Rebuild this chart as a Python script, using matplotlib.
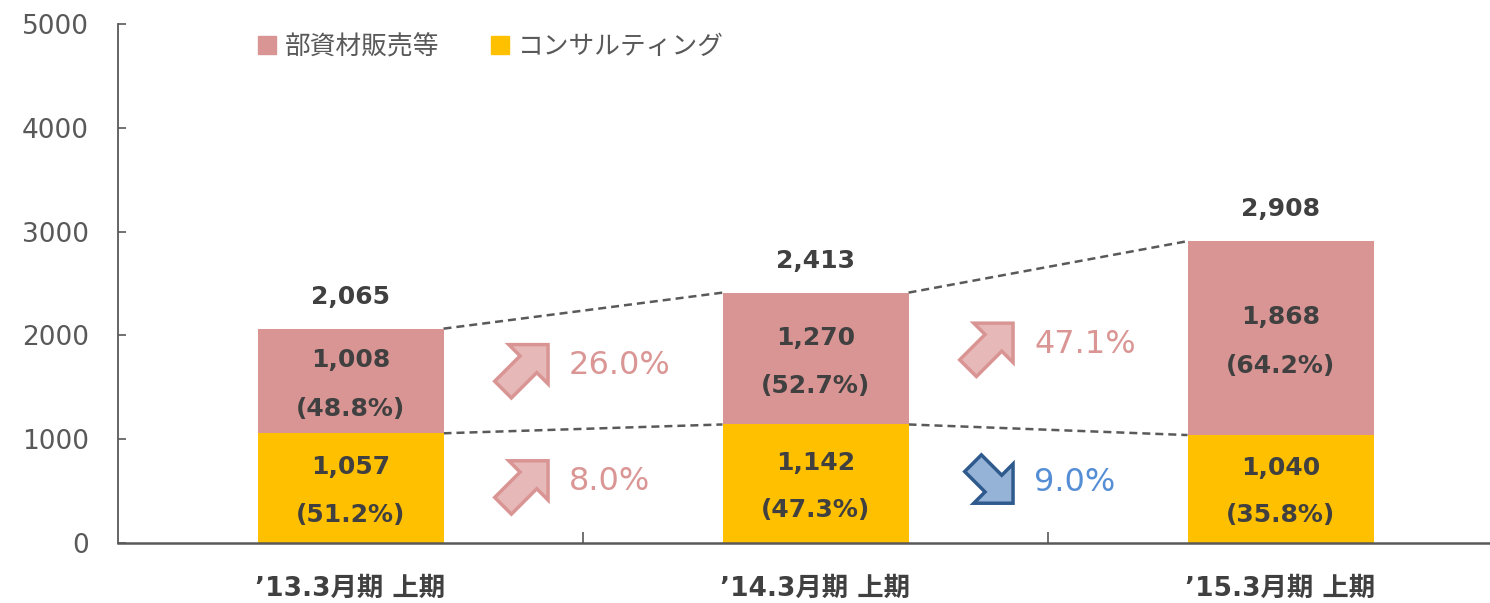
import numpy as np
import matplotlib.pyplot as plt
from matplotlib.patches import Patch
from matplotlib.transforms import offset_copy

# digits / latin in DejaVu, kana & kanji fall back to Noto CJK
plt.rcParams['font.family'] = ['DejaVu Sans', 'Noto Sans CJK JP']

periods = ["’13.3月期 上期", "’14.3月期 上期", "’15.3月期 上期"]
series_names = ["部資材販売等", "コンサルティング"]
parts = [1008, 1270, 1868]          # 部資材販売等
consulting = [1057, 1142, 1040]     # コンサルティング
totals = [2065, 2413, 2908]
parts_share = ["48.8%", "52.7%", "64.2%"]
consulting_share = ["51.2%", "47.3%", "35.8%"]
# year-on-year change between neighbouring periods
parts_growth = [26.0, 47.1]
consulting_growth = [8.0, -9.0]
yticks = [0, 1000, 2000, 3000, 4000, 5000]

pink = '#D99594'
yellow = '#FFC000'
dark = '#404040'
axis_gray = '#595959'

fig = plt.figure(figsize=(14.9, 6.03), dpi=100)
ax = fig.add_axes([118 / 1490, 60 / 603, 1395 / 1490, 519 / 603])

x = np.arange(len(periods))
w = 0.4
ax.bar(x, consulting, width=w, color=yellow, zorder=2)
ax.bar(x, parts, bottom=consulting, width=w, color=pink, zorder=2)

tops = np.array(consulting) + np.array(parts)

# dashed connectors between bars
for i in range(len(x) - 1):
    for series in (tops, consulting):
        ax.plot([x[i] + w / 2, x[i + 1] - w / 2], [series[i], series[i + 1]],
                ls=(0, (3.2, 2.0)), color=axis_gray, lw=1.8, zorder=1)

lab = dict(ha='center', va='center', fontsize=18, fontweight='bold', color=dark,
           textcoords='offset points')
for i in range(len(x)):
    mid_p = consulting[i] + parts[i] / 2
    mid_c = consulting[i] / 2
    ax.annotate(f"{parts[i]:,}", xy=(x[i], mid_p), xytext=(0, 15), **lab)
    ax.annotate(f"({parts_share[i]})", xy=(x[i], mid_p), xytext=(0, -20), **lab)
    ax.annotate(f"{consulting[i]:,}", xy=(x[i], mid_c), xytext=(0, 15), **lab)
    ax.annotate(f"({consulting_share[i]})", xy=(x[i], mid_c), xytext=(0, -19), **lab)
    ax.annotate(f"{totals[i]:,}", xy=(x[i], tops[i]), xytext=(0, 23), **lab)


def growth_mark(xa, ya, g):
    up = g >= 0
    if up:
        fc, ec, tc, size = '#E6B8B7', pink, '#DA9694', 45
    else:
        fc, ec, tc, size = '#95B3D7', '#2F5A8E', '#558ED5', 40
    tr = offset_copy(ax.transData, fig=fig, x=-21, y=21 if up else -21, units='dots')
    ax.annotate("", xy=(xa, ya), xycoords=tr,
                xytext=(-size, -size if up else size), textcoords='offset pixels',
                arrowprops=dict(arrowstyle='simple,head_length=20,head_width=40,tail_width=17',
                                mutation_scale=1, fc=fc, ec=ec, lw=2.5, joinstyle='miter',
                                shrinkA=0, shrinkB=0, patchA=None))
    ax.text(xa, ya, f"{abs(g):.1f}%", ha='left', va='center', fontsize=23, color=tc)


for i in range(len(x) - 1):
    yp = (consulting[i] + parts[i] / 2 + consulting[i + 1] + parts[i + 1] / 2) / 2 + 40
    yc = (consulting[i] / 2 + consulting[i + 1] / 2) / 2 + 40
    growth_mark(x[i] + 0.47, yp, parts_growth[i])
    growth_mark(x[i] + 0.47, yc, consulting_growth[i])

ax.set_xlim(-0.5, 2.5)
ax.set_ylim(0, 5000)
ax.set_yticks(yticks)
ax.set_xticks(x, periods)
ax.set_xticks([0.5, 1.5], minor=True)
for lbl in ax.get_xticklabels():
    lbl.set_fontweight('bold')
ax.tick_params(axis='x', which='major', length=0, pad=24, labelsize=19, labelcolor=dark)
ax.tick_params(axis='x', which='minor', direction='in', length=8, width=1.2, color=axis_gray)
ax.tick_params(axis='y', direction='in', length=6, width=1.2, color=axis_gray,
               labelsize=19, labelcolor=axis_gray, pad=21)

for s in ('top', 'right'):
    ax.spines[s].set_visible(False)
ax.spines['left'].set_color(axis_gray)
ax.spines['left'].set_linewidth(1.3)
ax.spines['bottom'].set_color(axis_gray)
ax.spines['bottom'].set_linewidth(1.8)

handles = [Patch(color=pink), Patch(color=yellow)]
fig.legend(handles, series_names, loc='center left', bbox_to_anchor=(258 / 1490, 1 - 47 / 603),
           ncol=2, frameon=False, fontsize=18.5, handlelength=0.7, handleheight=0.7,
           handletextpad=0.35, columnspacing=2.0, borderpad=0, borderaxespad=0,
           labelcolor=axis_gray)

fig.savefig('out.png', dpi=100)
